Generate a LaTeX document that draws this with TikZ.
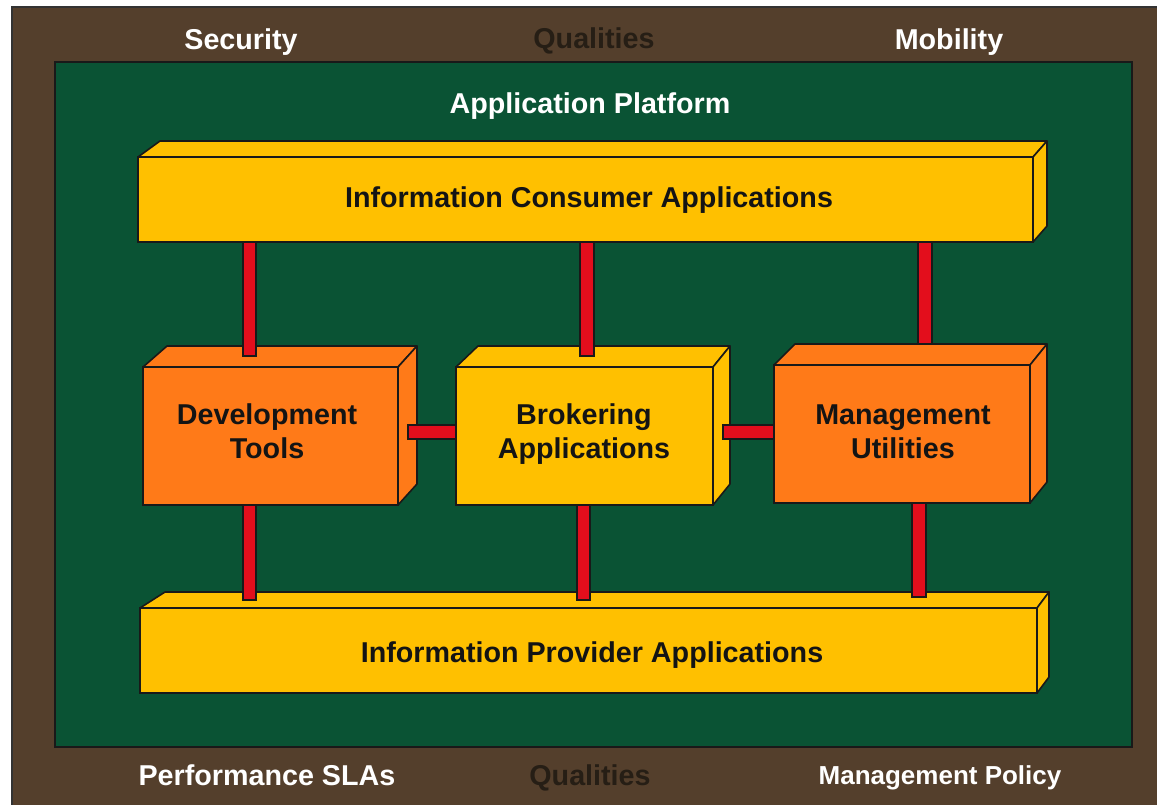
\documentclass[tikz,border=0pt]{standalone}
\usepackage{fontspec}
\setmainfont{Liberation Sans}
\usetikzlibrary{calc}
\definecolor{framebrown}{HTML}{543F2C}
\definecolor{platgreen}{HTML}{0A5334}
\definecolor{boxyellow}{HTML}{FFC000}
\definecolor{boxorange}{HTML}{FF7A18}
\definecolor{connred}{HTML}{E30E1C}
\definecolor{qualtext}{HTML}{261E15}
\begin{document}
\begin{tikzpicture}[x=1pt,y=-1pt,
  face/.style={draw=black!90, line width=1.6pt, rectangle, inner sep=0pt, outer sep=0pt},
  sideface/.style={draw=black!90, line width=1.6pt, line join=round},
  boxtext/.style={font=\fontsize{28.7}{34}\selectfont\bfseries, text=black!92, align=center, inner sep=0pt},
  conn/.style={draw=black!90, fill=connred, line width=1.4pt},
  whitelbl/.style={font=\fontsize{28.7}{33}\selectfont\bfseries, text=white, inner sep=0pt, anchor=base},
  quallbl/.style={font=\fontsize{28.7}{33}\selectfont\bfseries, text=qualtext, inner sep=0pt, anchor=base}
]
\useasboundingbox (0,0) rectangle (1157,805);
\fill[white] (0,0) rectangle (1157,805);
% frame and platform
\draw[fill=framebrown, draw=black!80, line width=1.5pt] (12,7) rectangle (1162,810);
\draw[fill=platgreen, draw=black!90, line width=2pt] (55,62) rectangle (1132,747);

% frame labels
\node[whitelbl] (sec) at (241,50) {Security};
\node[quallbl] (qtop) at (594,49) {Qualities};
\node[whitelbl] (mob) at (949,50) {Mobility};
\node[whitelbl] (plat) at (590,114) {Application Platform};
\node[whitelbl] (perf) at (267,785) {Performance SLAs};
\node[quallbl] (qbot) at (590,785) {Qualities};
\node[whitelbl, font=\fontsize{26}{30}\selectfont\bfseries] (mpol) at (940,784) {Management Policy};

% macro for the depth faces: name, depth, left offset, right offset, colour
\newcommand\cubefaces[5]{%
  \draw[sideface, fill=#5] (#1.north west) -- ($(#1.north west)+(#3,-#2)$)
     -- ($(#1.north east)+(#4,-#2)$) -- (#1.north east) -- cycle;
  \draw[sideface, fill=#5] (#1.north east) -- ($(#1.north east)+(#4,-#2)$)
     -- ($(#1.south east)+(#4,-#2)$) -- (#1.south east) -- cycle;
}

% bars and boxes
\node[face, fill=boxyellow, minimum width=895pt, minimum height=85pt] (ic) at (585.5,199.5) {};
\cubefaces{ic}{16}{22}{14}{boxyellow}
\node[face, fill=boxyellow, minimum width=897pt, minimum height=85pt] (ip) at (588.5,650.5) {};
\cubefaces{ip}{16}{25}{12}{boxyellow}
\node[face, fill=boxorange, minimum width=255pt, minimum height=138pt] (dt) at (270.5,436) {};
\cubefaces{dt}{21}{24}{19}{boxorange}
\node[face, fill=boxyellow, minimum width=257pt, minimum height=138pt] (br) at (584.5,436) {};
\cubefaces{br}{21}{22}{17}{boxyellow}
\node[face, fill=boxorange, minimum width=256pt, minimum height=138pt] (mu) at (902,434) {};
\cubefaces{mu}{21}{21}{17}{boxorange}

% box texts
\node[boxtext, anchor=base] (ict) at (589,208) {Information Consumer Applications};
\node[boxtext, anchor=base] (ipt) at (592,662) {Information Provider Applications};
\node[boxtext] (dtt) at (267,431.5) {Development\\Tools};
\node[boxtext] (brt) at (584,434) {Brokering\\Applications};
\node[boxtext] (mut) at (903,431.5) {Management\\Utilities};

% connector guide coordinates
\coordinate (k1) at (249.5,0);
\coordinate (k2) at (587,0);
\coordinate (k3) at (925,0);
\coordinate (k4) at (583.5,0);
\coordinate (k5) at (919,0);
\coordinate (k6) at (0,432);

% connectors
\draw[conn] ($(k1 |- ic.south)+(-6.5,0)$) rectangle ($(k1 |- dt.north)+(6.5,-11)$);
\draw[conn] ($(k2 |- ic.south)+(-7,0)$) rectangle ($(k2 |- br.north)+(7,-11)$);
\draw[conn] ($(k3 |- ic.south)+(-7,0)$) rectangle ($(k3 |- mu.north)+(7,-21)$);
\draw[conn] ($(k1 |- dt.south)+(-6.5,0)$) rectangle ($(k1 |- ip.north)+(6.5,-8)$);
\draw[conn] ($(k4 |- br.south)+(-6.5,0)$) rectangle ($(k4 |- ip.north)+(6.5,-8)$);
\draw[conn] ($(k5 |- mu.south)+(-7,0)$) rectangle ($(k5 |- ip.north)+(7,-11)$);
\draw[conn] ($(dt.east |- k6)+(10,-7)$) rectangle ($(br.west |- k6)+(0,7)$);
\draw[conn] ($(br.east |- k6)+(10,-7)$) rectangle ($(mu.west |- k6)+(0,7)$);
\end{tikzpicture}
\end{document}
